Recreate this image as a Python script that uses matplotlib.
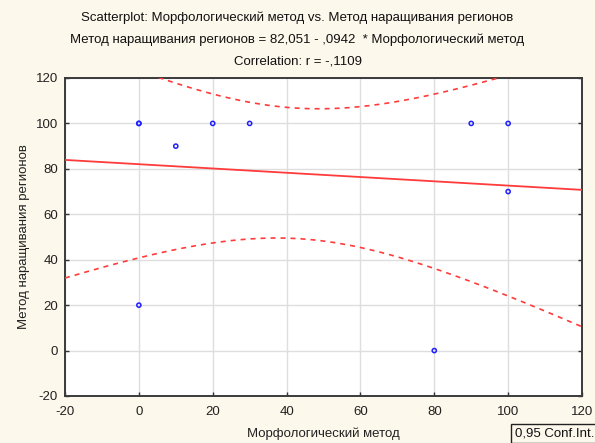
import numpy as np
import matplotlib
matplotlib.use("Agg")
import matplotlib.pyplot as plt
from matplotlib.patches import Rectangle

# Observations: morphological method (x) vs. region-growing method (y)
morph = [0, 0, 0, 10, 20, 30, 80, 90, 100, 100]
region = [100, 100, 20, 90, 100, 100, 0, 100, 100, 70]

x_ticks = [-20, 0, 20, 40, 60, 80, 100, 120]
y_ticks = [-20, 0, 20, 40, 60, 80, 100, 120]

T_CRIT = 2.306  # Student t, 0.975 quantile, 8 d.f.

plt.rcParams['font.family'] = ['Liberation Sans', 'DejaVu Sans']
plt.rcParams['axes.unicode_minus'] = False

x = np.asarray(morph, float)
y = np.asarray(region, float)
n = len(x)
xm, ym = x.mean(), y.mean()
sxx = ((x - xm) ** 2).sum()
sxy = ((x - xm) * (y - ym)).sum()
syy = ((y - ym) ** 2).sum()
slope = sxy / sxx
intercept = ym - slope * xm
r = sxy / np.sqrt(sxx * syy)
s = np.sqrt((syy - sxy ** 2 / sxx) / (n - 2))

bg = '#fdf8ec'
fig = plt.figure(figsize=(5.95, 4.43), dpi=100, facecolor=bg)
ax = fig.add_axes([65 / 595, 47 / 443, 517 / 595, 318 / 443])
ax.set_facecolor('white')

xs = np.linspace(-20, 120, 300)
fit = intercept + slope * xs
half = T_CRIT * s * np.sqrt(1 / n + (xs - xm) ** 2 / sxx)

ax.plot(xs, fit, color='#ff3b3b', lw=1.3, zorder=3)
ax.plot(xs, fit + half, color='#ff3b3b', lw=1.2, ls=(0, (3, 3)), zorder=3)
ax.plot(xs, fit - half, color='#ff3b3b', lw=1.2, ls=(0, (3, 3)), zorder=3)
ax.scatter(x, y, s=9, facecolors='none', edgecolors='#2020ff', linewidths=1.1, zorder=4)

ax.set_xlim(-20, 120)
ax.set_ylim(-20, 120)
ax.set_xticks(x_ticks)
ax.set_yticks(y_ticks)
ax.grid(True, color='#dedede', lw=1.0)
ax.set_axisbelow(True)
ax.tick_params(direction='in', length=3, width=1, color='#333333',
               labelsize=9.5, labelcolor='#222222', top=False, right=True)
ax.tick_params(axis='x', pad=7)
ax.tick_params(axis='y', pad=5)
for sp in ax.spines.values():
    sp.set_color('#3a3a3a')
    sp.set_linewidth(1.4)

ax.set_xlabel('Морфологический метод', fontsize=9.5, color='#222222', labelpad=7)
ax.set_ylabel('Метод наращивания регионов', fontsize=9.5, color='#222222', labelpad=4)

fig.text(0.5, 1 - 18 / 443, 'Scatterplot: Морфологический метод vs. Метод наращивания регионов',
         ha='center', va='center', fontsize=9.5, color='#111111')
fig.text(0.5, 1 - 40 / 443,
         f'Метод наращивания регионов = {intercept:.3f} - {abs(slope):.4f}  * Морфологический метод'
         .replace('0.', ',').replace('.', ','),
         ha='center', va='center', fontsize=9.5, color='#111111')
fig.text(0.5, 1 - 61 / 443, f'Correlation: r = -{abs(r):.4f}'.replace('0.', ','),
         ha='center', va='center', fontsize=9.5, color='#111111')

fig.add_artist(Rectangle((511 / 595, 0), 90 / 595, 19 / 443, transform=fig.transFigure,
                         facecolor=bg, edgecolor='#222222', lw=1.0))
fig.text(515 / 595, 9 / 443, '0,95 Conf.Int.', ha='left', va='center', fontsize=9.5, color='#111111')

fig.savefig('out.png', dpi=100, facecolor=bg)
